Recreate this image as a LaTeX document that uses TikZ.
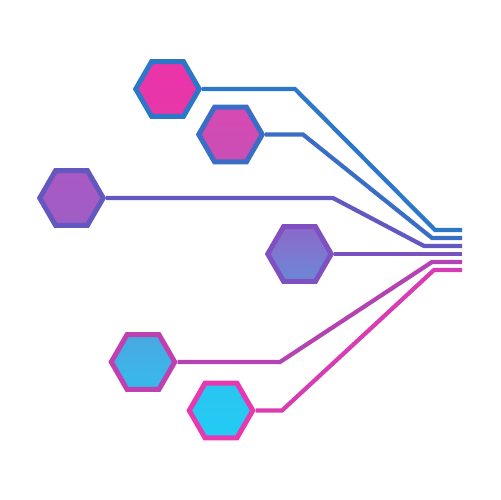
\documentclass[tikz,border=0pt]{standalone}
\usetikzlibrary{shapes.geometric}
\definecolor{bdA}{HTML}{2C78C8}
\definecolor{bdB}{HTML}{3A6EC6}
\definecolor{bdC}{HTML}{6258C0}
\definecolor{bdD}{HTML}{8050C0}
\definecolor{bdE}{HTML}{C040B0}
\definecolor{bdF}{HTML}{E838B0}
\definecolor{fiA}{HTML}{EA34A8}
\definecolor{fiB}{HTML}{D64AB2}
\definecolor{fiC}{HTML}{AA58C2}
\definecolor{fiD}{HTML}{8C68CA}
\definecolor{fiE}{HTML}{4AA8E2}
\definecolor{fiF}{HTML}{22CCF4}
\begin{document}
\begin{tikzpicture}[x=0.02cm,y=-0.02cm,
    hexa/.style={regular polygon,regular polygon sides=6,minimum size=1.27cm,
      inner sep=0pt,line width=2.85pt},
    wire/.style={line width=2.4pt}]
      \useasboundingbox (0,0) rectangle (500,500);
      \node[hexa,draw=bdA,top color=fiA,bottom color=fiA!85!fiB] (h1) at (167.5,89) {};
      \node[hexa,draw=bdB,top color=fiB,bottom color=fiB!70!fiC] (h2) at (230.5,134.5) {};
      \node[hexa,draw=bdC,top color=fiC,bottom color=fiC!60!fiD] (h3) at (71.5,198) {};
      \node[hexa,draw=bdD,top color=fiD,bottom color=fiD!50!fiE] (h4) at (299.5,254) {};
      \node[hexa,draw=bdE,top color=fiE,bottom color=fiE!50!fiF] (h5) at (143,362) {};
      \node[hexa,draw=bdF,top color=fiF!80!fiE,bottom color=fiF] (h6) at (221,410.5) {};
      \coordinate (e1) at (462,230);
      \coordinate (e2) at (462,238);
      \coordinate (e3) at (462,246);
      \coordinate (e4) at (462,254);
      \coordinate (e5) at (462,262);
      \coordinate (e6) at (462,270);
      \begin{scope}[wire]
        \draw[bdA] (h1.east) -- (295,89) -- (435,230) -- (e1);
        \draw[bdB] (h2.east) -- (303,134.5) -- (432,238) -- (e2);
        \draw[bdC] (h3.east) -- (333,198) -- (424,246) -- (e3);
        \draw[bdD!85!bdC] (h4.east) -- (e4);
        \draw[bdE!80!bdD] (h5.east) -- (280,362) -- (432,262) -- (e5);
        \draw[bdF!85!bdD] (h6.east) -- (282,410.5) -- (434,270) -- (e6);
      \end{scope}
    \end{tikzpicture}
\end{document}
